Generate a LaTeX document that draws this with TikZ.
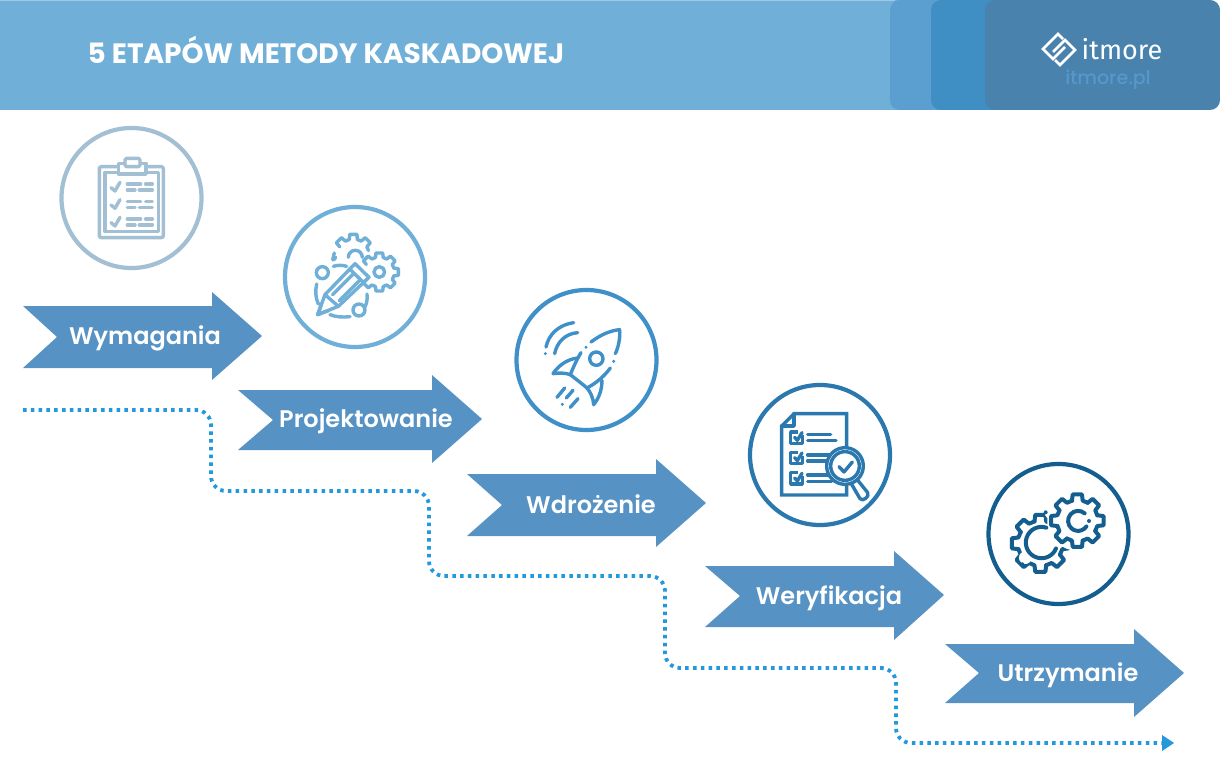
\documentclass[tikz,border=0pt]{standalone}
\usepackage{fontspec}
\usepackage{xcolor}
\usepackage{tikz}
\usetikzlibrary{arrows.meta}
\newfontfamily\labfont{Poppins}[UprightFont=* SemiBold]
\newfontfamily\headfont{Poppins}[UprightFont=* Bold]
\newfontfamily\sitefont{Poppins}[UprightFont=* Medium]
\newfontfamily\logofont{Fira Sans}
\definecolor{band}{HTML}{70AFD8}
\definecolor{bandedge}{HTML}{A0C8E4}
\definecolor{panela}{HTML}{5A9FCF}
\definecolor{panelb}{HTML}{3F8FC4}
\definecolor{panelc}{HTML}{4982AD}
\definecolor{logolight}{HTML}{5598CD}
\definecolor{stageblue}{HTML}{5792C4}
\definecolor{flow}{HTML}{2398DC}
\definecolor{icona}{HTML}{A3BFD3}
\definecolor{iconb}{HTML}{6FAFD8}
\definecolor{iconc}{HTML}{3F8FC8}
\definecolor{icond}{HTML}{2B78AE}
\definecolor{icone}{HTML}{135E8E}
\tikzset{
  panel/.style={rounded corners=10pt},
  stage/.style={fill=stageblue},
  lab/.style={text=white, font=\labfont\fontsize{24}{28}\selectfont, inner sep=0pt, anchor=base},
  ring/.style={line width=4.2pt, fill=white},
  ico/.style={line width=3.4pt, line cap=round, line join=round},
  logomark/.style={draw=white, line width=2.6pt},
  zoomed/.style={x=0.3333pt, y=-0.3333pt},
  flowline/.style={draw=flow, line width=3.8pt, dash pattern=on 3.5pt off 4.3pt, rounded corners=15pt},
}
% one tooth after another, round the centre #1,#2
\newcommand{\gearteeth}[7]{%
  \foreach \a in {#7}{
    \draw ([shift={(#1,#2)}]\a-#5:#3) -- ([shift={(#1,#2)}]\a-#6:#4) -- ([shift={(#1,#2)}]\a+#6:#4)
      -- ([shift={(#1,#2)}]\a+#5:#3) -- ([shift={(#1,#2)}]\a+45-#5:#3);
  }%
}
\begin{document}
\begin{tikzpicture}[x=1pt,y=-1pt]
  \useasboundingbox (0,0) rectangle (1220,770);
  \fill[white] (0,0) rectangle (1220,770);

  % header band
  \fill[band] (0,0) rectangle (905,110);
  \fill[bandedge] (0,0) rectangle (895,1);
  \fill[panela, panel] (890,0) rectangle (1000,110);
  \fill[panelb, panel] (931,0) rectangle (1040,110);
  \fill[panelc, panel] (985,0) rectangle (1220,110);
  \node[text=white, font=\headfont\fontsize{28}{32}\selectfont, inner sep=0pt, anchor=base] (title) at (326,64) {5 ETAPÓW METODY KASKADOWEJ};

  % logo
  \draw[logomark] (1063,39) -- (1058,34) -- (1043,49) -- (1053,59) -- (1065,47);
  \draw[logomark] (1055,60) -- (1060,65) -- (1075,50) -- (1065,40) -- (1053,52);
  \node[text=white, font=\logofont\fontsize{27}{30}\selectfont, inner sep=0pt, anchor=base] (logo) at (1122,60) {itmore};
  \node[text=logolight, font=\sitefont\fontsize{19}{22}\selectfont, inner sep=0pt, anchor=base] (site) at (1108,85) {itmore.pl};

  % dotted flow behind the stages
  \coordinate (flowstart) at (23,410);
  \coordinate (flowend) at (1174,743);
  \draw[flowline] (flowstart) -- (211,410) -- (211,491) -- (429,491) -- (429,576)
    -- (665,576) -- (665,668) -- (896,668) -- (896,743) -- (1165,743);
  \fill[flow] (1162,735) -- (flowend) -- (1162,751) -- cycle;

  % stages
  \fill[stage] (23,306) -- (212,306) -- (212,292) -- (262,336) -- (212,380) -- (212,368) -- (23,368) -- (57,337) -- cycle;
  \node[lab] (wymagania) at (145,344) {Wymagania};
  \fill[stage] (238,390) -- (432,390) -- (432,375) -- (482,419) -- (432,463) -- (432,450) -- (238,450) -- (273,420) -- cycle;
  \node[lab] (projektowanie) at (366,427) {Projektowanie};
  \fill[stage] (467,474) -- (656,474) -- (656,459) -- (706,503) -- (656,547) -- (656,536) -- (467,536) -- (502,505) -- cycle;
  \node[lab] (wdrozenie) at (591,513) {Wdrożenie};
  \fill[stage] (705,566) -- (894,566) -- (894,551) -- (944,595) -- (894,640) -- (894,627) -- (705,627) -- (740,596) -- cycle;
  \node[lab] (weryfikacja) at (829,604) {Weryfikacja};
  \fill[stage] (945,644) -- (1134,644) -- (1134,629) -- (1184,673) -- (1134,717) -- (1134,703) -- (945,703) -- (979,673) -- cycle;
  \node[lab] (utrzymanie) at (1068,681) {Utrzymanie};

  % rings
  \draw[ring, draw=icona] (131.5,198) circle (70);
  \draw[ring, draw=iconb] (355,277) circle (70);
  \draw[ring, draw=iconc] (586.5,360) circle (70);
  \draw[ring, draw=icond] (820,455) circle (70);
  \draw[ring, draw=icone] (1058.5,534) circle (70);

  % clipboard
  \begin{scope}[shift={(50,120)}, zoomed, ico, icona]
    \draw[rounded corners=2pt] (148,140) rectangle (340,353);
    \draw (165,157) rectangle (325,335);
    \draw[fill=white] (205,130) rectangle (288,162);
    \draw[fill=white, rounded corners=2pt] (225,115) rectangle (270,140);
    \foreach \y in {0,52,105}{
      \draw (183,203+\y) -- (195,213+\y) -- (210,187+\y);
      \draw (232,192+\y) -- (272,192+\y) (287,192+\y) -- (307,192+\y);
      \draw (232,210+\y) -- (255,210+\y) (268,210+\y) -- (307,210+\y);
    }
  \end{scope}

  % pencil and gears
  \begin{scope}[shift={(275,198)}, zoomed, ico, iconb]
    \gearteeth{235}{170}{47}{62}{15}{10}{-135,-90,-45}
    \draw (173,185) -- (178,165);
    \draw (182,178) -- (176,186);
    \draw (220,178) arc[start angle=180, delta angle=180, radius=21];
    \gearteeth{313}{222}{45}{58}{15}{10}{-90,-45,0,45,90,135,-135}
    \draw (313,222) circle (16);
    \draw (142,224) circle (18);
    \draw (252,336) circle (18);
    \draw (175,205) .. controls (188,201) and (202,201) .. (215,205);
    \draw (125,258) .. controls (120,280) and (122,300) .. (130,318);
    \draw (165,350) .. controls (185,358) and (205,358) .. (225,356);
    \draw (276,288) .. controls (278,305) and (275,318) .. (268,330);
    \draw[fill=white] (128,350) -- (150,290) -- (240,197) -- (282,238) -- (190,325) -- cycle;
    \draw (224,213) -- (266,254);
    \draw (150,290) -- (190,325);
    \draw (173,290) -- (235,228) (193,308) -- (255,246);
    \draw (128,350) -- (139,320) (128,350) -- (160,338);
  \end{scope}

  % rocket
  \begin{scope}[shift={(507,282)}, zoomed, ico, iconc]
    \draw (252,180) .. controls (285,155) and (315,145) .. (338,143) .. controls (340,165) and (335,195) .. (325,215);
    \draw (310,258) .. controls (290,285) and (265,305) .. (240,318);
    \draw (222,212) .. controls (208,235) and (198,258) .. (190,278) .. controls (205,290) and (225,305) .. (240,318);
    \draw (212,228) .. controls (180,232) and (155,250) .. (138,275) .. controls (160,272) and (175,273) .. (190,278);
    \draw (285,295) .. controls (285,325) and (275,350) .. (260,368) .. controls (258,345) and (250,330) .. (240,318);
    \draw (268,230) circle (20);
    \draw (200,122) .. controls (150,130) and (125,160) .. (117,195);
    \draw (212,152) .. controls (175,155) and (150,180) .. (143,215);
    \draw (173,318) -- (150,346) (198,325) -- (178,348) (213,350) -- (190,376);
    \fill (320,238) circle (5) (237,196) circle (5) (115,215) circle (5) (166,367) circle (5);
  \end{scope}

  % document under the lens
  \begin{scope}[shift={(740,376)}, zoomed, ico, icond]
    \draw[line join=miter] (320,215) -- (320,113) -- (162,113) -- (125,150) -- (125,357) -- (320,357) -- (320,330);
    \draw (162,113) -- (162,150) -- (125,150);
    \foreach \y in {0,61,122}{
      \draw[line cap=butt] (187,178+\y) -- (187,202+\y) -- (152,202+\y) -- (152,168+\y) -- (175,168+\y);
      \draw (164,184+\y) -- (172,193+\y) -- (186,170+\y);
    }
    \draw (203,175) -- (272,175) (203,193) -- (288,193);
    \draw (203,237) -- (275,237) (203,255) -- (262,255);
    \draw (203,297) -- (262,297) (203,316) -- (275,316);
    \draw[fill=white] (315,270) circle (55);
    \draw (315,270) circle (43);
    \draw (297,272) -- (312,288) -- (337,258);
    \draw (335,325) -- (360,368) .. controls (368,378) and (390,362) .. (383,350) -- (355,315);
  \end{scope}

  % two gears
  \begin{scope}[shift={(978,455)}, zoomed, ico, icone, line width=4pt]
    \gearteeth{187}{265}{68}{87}{15}{10}{0,45,90,135,180,225,270}
    \fill[white] (298,197) circle (90);
    \fill[white] (222,172) circle (22) (142,308) circle (19);
    \draw (205,218) arc[start angle=-72, delta angle=-266, radius=47];
    \gearteeth{298}{197}{62}{80}{15}{10}{0,45,90,135,180,225,270,315}
    \draw (320,175) arc[start angle=-49, delta angle=-277, radius=30];
    \fill (203,172) circle (6) (133,328) circle (6) (333,198) circle (6);
  \end{scope}
\end{tikzpicture}
\end{document}
